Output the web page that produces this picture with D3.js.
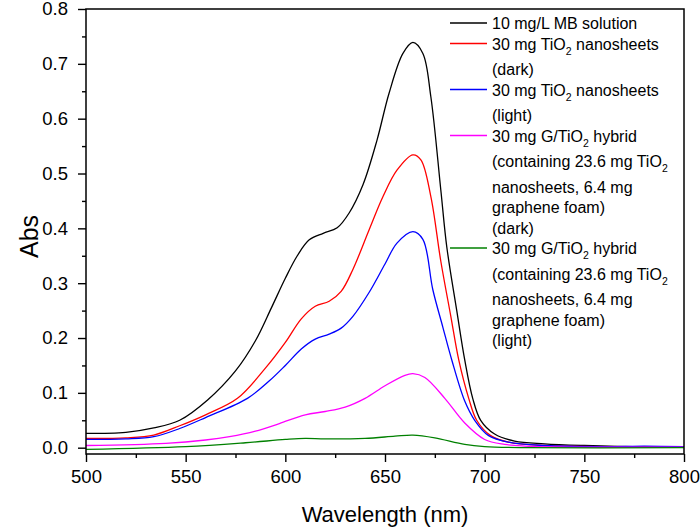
<!DOCTYPE html>
<html>
<head>
<meta charset="utf-8">
<script src="https://cdn.jsdelivr.net/npm/d3@7"></script>
<style>
  body { margin: 0; background: #fff; }
  svg { font-family: "Liberation Sans", Arial, sans-serif; }
  .axis text { font-size: 18.5px; fill: #000; }
  .axis path, .axis line { stroke: #000; stroke-width: 1.4; }
</style>
</head>
<body>
<svg id="chart" width="700" height="527"></svg>
<script>
// wavelength (nm) / absorbance pairs
const mbWave = [500, 520, 534, 547, 561, 575, 585, 593, 600, 606, 612, 619, 626, 632, 639, 646, 652, 659, 664, 669, 673, 678, 681, 686, 690, 694, 698, 705, 715, 730, 750, 775, 800];
const mbAbs  = [0.026, 0.028, 0.036, 0.050, 0.087, 0.140, 0.195, 0.255, 0.309, 0.350, 0.379, 0.391, 0.401, 0.428, 0.480, 0.561, 0.646, 0.719, 0.739, 0.719, 0.640, 0.470, 0.366, 0.250, 0.160, 0.090, 0.050, 0.025, 0.012, 0.007, 0.004, 0.002, 0.001];

const tioDarkWave = [500, 520, 534, 547, 560, 576, 590, 600, 608, 615, 622, 628, 634, 642, 649, 656, 664, 668, 673, 678, 683, 687, 692, 696, 703, 712, 730, 800];
const tioDarkAbs  = [0.017, 0.018, 0.023, 0.040, 0.060, 0.090, 0.145, 0.192, 0.235, 0.258, 0.267, 0.285, 0.326, 0.397, 0.458, 0.506, 0.534, 0.525, 0.458, 0.340, 0.240, 0.160, 0.090, 0.050, 0.022, 0.010, 0.004, 0.001];

const tioLightWave = [500, 520, 534, 547, 560, 581, 592, 600, 608, 615, 622, 628, 634, 642, 650, 656, 664, 669, 674, 679, 683.5, 690, 695, 702, 712, 730, 760, 780, 800];
const tioLightAbs  = [0.015, 0.016, 0.020, 0.035, 0.055, 0.090, 0.122, 0.150, 0.180, 0.198, 0.207, 0.218, 0.240, 0.283, 0.335, 0.373, 0.394, 0.380, 0.288, 0.220, 0.160, 0.085, 0.050, 0.022, 0.010, 0.004, 0.002, 0.003, 0.002];

const hybDarkWave = [500, 540, 560, 572, 585, 597, 610, 620, 630, 640, 650, 660, 664, 670, 680, 690, 700, 710, 720, 750, 800];
const hybDarkAbs  = [0.004, 0.008, 0.014, 0.020, 0.030, 0.044, 0.060, 0.066, 0.074, 0.090, 0.113, 0.132, 0.135, 0.128, 0.090, 0.045, 0.015, 0.006, 0.003, 0.001, 0.001];

const hybLightWave = [500, 550, 580, 600, 610, 620, 640, 655, 664, 675, 690, 700, 720, 800];
const hybLightAbs  = [-0.003, 0.002, 0.009, 0.015, 0.017, 0.016, 0.017, 0.021, 0.023, 0.018, 0.006, 0.002, 0.000, 0.000];

const seriesColors = ['#000000', '#ff0000', '#0000ff', '#ff00ff', '#008000'];
const legendLabels = [
  ['10 mg/L MB solution'],
  ['30 mg TiO<sub>2</sub> nanosheets', '(dark)'],
  ['30 mg TiO<sub>2</sub> nanosheets', '(light)'],
  ['30 mg G/TiO<sub>2</sub> hybrid', '(containing 23.6 mg TiO<sub>2</sub>', 'nanosheets, 6.4 mg', 'graphene foam)', '(dark)'],
  ['30 mg G/TiO<sub>2</sub> hybrid', '(containing 23.6 mg TiO<sub>2</sub>', 'nanosheets, 6.4 mg', 'graphene foam)', '(light)']
];
const xTicks = [500, 550, 600, 650, 700, 750, 800];
const yTicks = [0.0, 0.1, 0.2, 0.3, 0.4, 0.5, 0.6, 0.7, 0.8];

function zip(xs, ys) {
  return xs.map((x, i) => ({ x: x, y: ys[i] }));
}

const series = [
  zip(mbWave, mbAbs),
  zip(tioDarkWave, tioDarkAbs),
  zip(tioLightWave, tioLightAbs),
  zip(hybDarkWave, hybDarkAbs),
  zip(hybLightWave, hybLightAbs)
];

let padL = 86, padR = 684, padT = 9, padB = 454;

let svg = d3.select('#chart');

let xScale = d3.scaleLinear().domain([500, 800]).range([padL, padR]);
let yScale = d3.scaleLinear().domain([-0.0115, 0.8]).range([padB, padT]);

// lines, smoothed through the read points
let line = d3.line()
  .x((d) => xScale(d.x))
  .y((d) => yScale(d.y))
  .curve(d3.curveCatmullRom.alpha(0.5));

svg.append('g')
  .selectAll('path')
  .data(series)
  .enter()
  .append('path')
  .attr('d', line)
  .attr('fill', 'none')
  .attr('stroke', (d, i) => seriesColors[i])
  .attr('stroke-width', 1.3);

// frame
svg.append('rect')
  .attr('x', padL).attr('y', padT)
  .attr('width', padR - padL).attr('height', padB - padT)
  .attr('fill', 'none').attr('stroke', '#000').attr('stroke-width', 1.5);

// minor ticks
let xMinor = d3.range(525, 800, 50);
let yMinor = d3.range(0.05, 0.8, 0.1);

svg.append('g')
  .attr('class', 'axis')
  .attr('transform', `translate(0, ${padB})`)
  .call(d3.axisBottom(xScale).tickValues(xMinor).tickSize(4).tickSizeOuter(0).tickFormat(''))
  .select('.domain').remove();

svg.append('g')
  .attr('class', 'axis')
  .attr('transform', `translate(${padL}, 0)`)
  .call(d3.axisLeft(yScale).tickValues(yMinor).tickSize(4).tickSizeOuter(0).tickFormat(''))
  .select('.domain').remove();

// major ticks
svg.append('g')
  .attr('class', 'axis')
  .attr('transform', `translate(0, ${padB})`)
  .call(d3.axisBottom(xScale).tickValues(xTicks).tickSize(8).tickSizeOuter(0).tickPadding(8).tickFormat(d3.format('d')))
  .select('.domain').remove();

svg.append('g')
  .attr('class', 'axis')
  .attr('transform', `translate(${padL}, 0)`)
  .call(d3.axisLeft(yScale).tickValues(yTicks).tickSize(8).tickSizeOuter(0).tickPadding(10).tickFormat(d3.format('.1f')))
  .select('.domain').remove();

// axis titles
svg.append('text')
  .attr('x', (padL + padR) / 2)
  .attr('y', 522)
  .attr('text-anchor', 'middle')
  .style('font-size', '22px')
  .text('Wavelength (nm)');

svg.append('text')
  .attr('transform', `translate(38, ${(padT + padB) / 2 + 5}) rotate(-90)`)
  .attr('text-anchor', 'middle')
  .style('font-size', '25px')
  .text('Abs');

// legend
let legend = svg.append('g');
let ly = 23;
legendLabels.forEach((lines, i) => {
  legend.append('line')
    .attr('x1', 450).attr('x2', 487)
    .attr('y1', ly).attr('y2', ly)
    .attr('stroke', seriesColors[i]).attr('stroke-width', 1.3);
  lines.forEach((txt) => {
    let t = legend.append('text')
      .attr('x', 492)
      .attr('y', ly + 6)
      .style('font-size', '16px');
    let parts = txt.split(/<sub>|<\/sub>/);
    parts.forEach((p, k) => {
      if (!p) return;
      let span = t.append('tspan').text(p);
      if (k % 2 === 1) {
        span.attr('dy', 5).style('font-size', '10.5px');
      } else if (k > 0) {
        span.attr('dy', -5);
      }
    });
    ly += txt.indexOf('<sub>') >= 0 ? 25.5 : 20.5;
  });
});
</script>
</body>
</html>
